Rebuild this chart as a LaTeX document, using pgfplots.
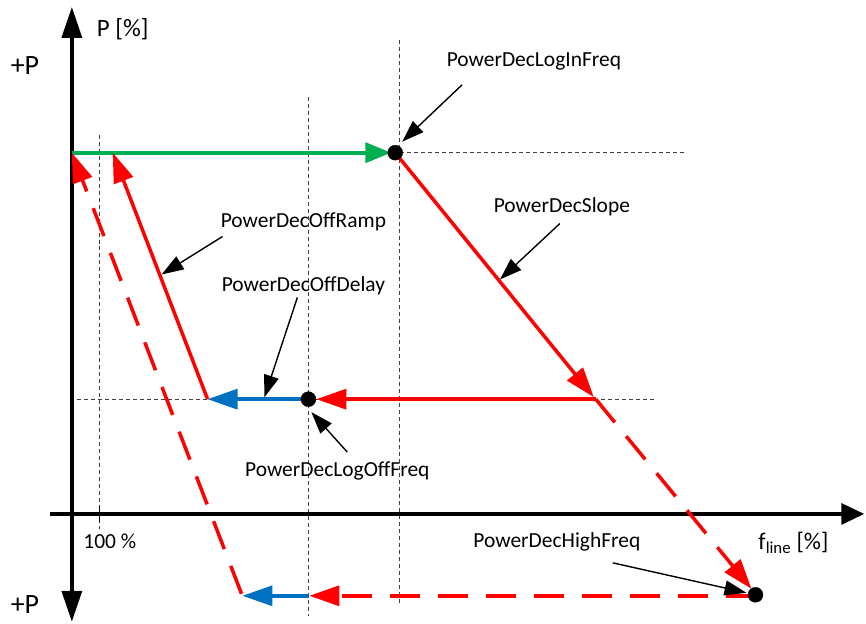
\documentclass[border=0pt]{standalone}
\usepackage{pgfplots}
\pgfplotsset{compat=1.18}
\usepackage{fontspec}
\setmainfont{Carlito}
\usetikzlibrary{arrows.meta}
\definecolor{pred}{HTML}{FF0000}
\definecolor{pgreen}{HTML}{00B050}
\definecolor{pblue}{HTML}{0070C0}
\tikzset{
 lbl/.style={font=\fontsize{21.5bp}{25bp}\selectfont,inner sep=0pt},
 big/.style={font=\fontsize{28bp}{32bp}\selectfont,inner sep=0pt},
 guide/.style={black!75,line width=0.8bp,dash pattern=on 4bp off 3bp},
 main/.style={line width=3.5bp},
 dsh/.style={dash pattern=on 30bp off 18bp},
 head/.style={-{Triangle[length=30bp,width=20bp]}},
 note/.style={black,line width=1.4bp,-{Triangle[length=22bp,width=15bp]}}
}
\begin{document}
\begin{tikzpicture}
\begin{axis}[x=1bp,y=1bp,xmin=0,xmax=866,ymin=0,ymax=624,hide axis,clip=false]
% frame for the bounding box
\addplot[draw=none] coordinates {(0,0) (866,624)};
% guide lines
\addplot[guide] coordinates {(100,489) (100,94)};
\addplot[guide] coordinates {(309,527) (309,7)};
\addplot[guide] coordinates {(400,584) (400,17)};
\addplot[guide] coordinates {(72,471) (687,471)};
\addplot[guide] coordinates {(70,224) (657,224)};
% axes
\addplot[black,line width=3.5bp,{Triangle[length=31bp,width=20bp]}-{Triangle[length=31bp,width=20bp]}] coordinates {(72,1) (72,617)};
\addplot[black,line width=3.5bp,-{Triangle[length=23bp,width=21bp]}] coordinates {(50,109) (866,109)};
\addplot[black,line width=1.4bp] coordinates {(100,117) (100,101)};
% curve
\addplot[pgreen,line width=4bp,-{Triangle[length=26bp,width=20bp]}] coordinates {(72,471) (392,471)};
\addplot[pred,main,head] coordinates {(396,471) (595,226)};
\addplot[pred,main,dsh,head] coordinates {(597,224) (753,34)};
\addplot[pred,main,dsh,head] coordinates {(757,27) (310,27)};
\addplot[pblue,main,head] coordinates {(310,27) (243,27)};
\addplot[pred,main,dsh,head] coordinates {(242,29) (72,471)};
\addplot[pred,main,head] coordinates {(597,224) (317,224)};
\addplot[pblue,main,head] coordinates {(309,224) (208,224)};
\addplot[pred,main,head] coordinates {(208,224) (113,471)};
\addplot[only marks,mark=*,mark size=7.5bp,black] coordinates {(396,471) (309,224) (757,28)};
% annotations
\addplot[note] coordinates {(463,539) (403,482)};
\addplot[note] coordinates {(561,400) (501,344)};
\addplot[note] coordinates {(223,387) (162,349)};
\addplot[note] coordinates {(298,326) (265,226)};
\addplot[note] coordinates {(348,171) (312,211)};
\addplot[note] coordinates {(614,60) (748,30)};
\node[lbl] at (axis cs:535,562) {PowerDecLogInFreq};
\node[lbl] at (axis cs:563,417) {PowerDecSlope};
\node[lbl] at (axis cs:304,402) {PowerDecOffRamp};
\node[lbl] at (axis cs:304,338) {PowerDecOffDelay};
\node[lbl] at (axis cs:338,152) {PowerDecLogOffFreq};
\node[lbl] at (axis cs:558,81) {PowerDecHighFreq};
\node[font=\fontsize{24bp}{28bp}\selectfont,inner sep=0pt] at (axis cs:795,80) {f\textsubscript{line} [\%]};
\node[lbl] at (axis cs:110,82) {100 \%};
\node[big] at (axis cs:25,558) {+P};
\node[big] at (axis cs:25,18) {+P};
\node[font=\fontsize{25bp}{28bp}\selectfont,inner sep=0pt] at (axis cs:123,595) {P [\%]};
\end{axis}
\end{tikzpicture}
\end{document}
